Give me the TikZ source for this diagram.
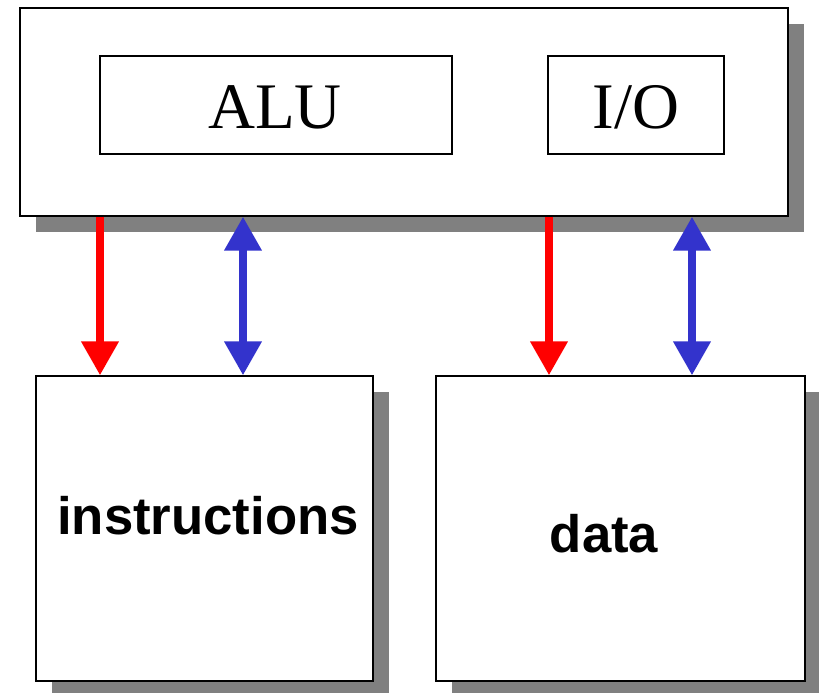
\documentclass[tikz,border=0pt]{standalone}
\usepackage{fontspec}
\setmainfont{Liberation Serif}
\newfontfamily\arialfont{Liberation Sans}
\usetikzlibrary{arrows.meta,shadows,calc}
\definecolor{busblue}{RGB}{51,51,204}
\tikzset{
  box/.style={draw,line width=0.03cm,fill=white,inner sep=0pt,
    drop shadow={shadow xshift=0.32cm,shadow yshift=-0.32cm,fill=black!50,opacity=1}},
  unit/.style={draw,line width=0.03cm,fill=white,inner sep=0pt},
  ctrl/.style={red,line width=0.15cm,-{Triangle[width=0.72cm,length=0.68cm]},shorten >=0pt},
  bus/.style={busblue,line width=0.15cm,{Triangle[width=0.72cm,length=0.68cm]}-{Triangle[width=0.72cm,length=0.68cm]}}
}
\begin{document}
\begin{tikzpicture}[x=0.02cm,y=-0.02cm]
    \useasboundingbox (0,0) rectangle (819,693);
    \node[box,minimum width=15.36cm,minimum height=4.16cm] (cpu) at (404,112){};
    \node[unit,minimum width=7.04cm,minimum height=1.96cm] (alu) at (276,105){};
    \node[unit,minimum width=3.52cm,minimum height=1.96cm] (io) at (636,105){};
    \node[anchor=base,font=\fontsize{37}{40}\selectfont] (alutext) at (275,128){ALU};
    \node[anchor=base,font=\fontsize{37}{40}\selectfont] (iotext) at (636,128){I/O};
    \node[box,minimum width=6.74cm,minimum height=6.1cm] (instr) at (204.5,528.5){};
    \node[box,minimum width=7.38cm,minimum height=6.1cm] (data) at (620.5,528.5){};
    \node[anchor=base,font=\arialfont\bfseries\fontsize{30}{34}\selectfont] (instrtext) at (208,534){instructions};
    \node[anchor=base,font=\arialfont\bfseries\fontsize{30}{34}\selectfont] (datatext) at (604,552){data};
    % connectors between the processor and the two memories
    \coordinate (x1) at (100,0);
    \coordinate (x2) at (243,0);
    \coordinate (x3) at (549,0);
    \coordinate (x4) at (692,0);
    \draw[ctrl] (cpu.south -| x1) -- (instr.north -| x1);
    \draw[bus] (cpu.south -| x2) -- (instr.north -| x2);
    \draw[ctrl] (cpu.south -| x3) -- (data.north -| x3);
    \draw[bus] (cpu.south -| x4) -- (data.north -| x4);
\end{tikzpicture}
\end{document}
